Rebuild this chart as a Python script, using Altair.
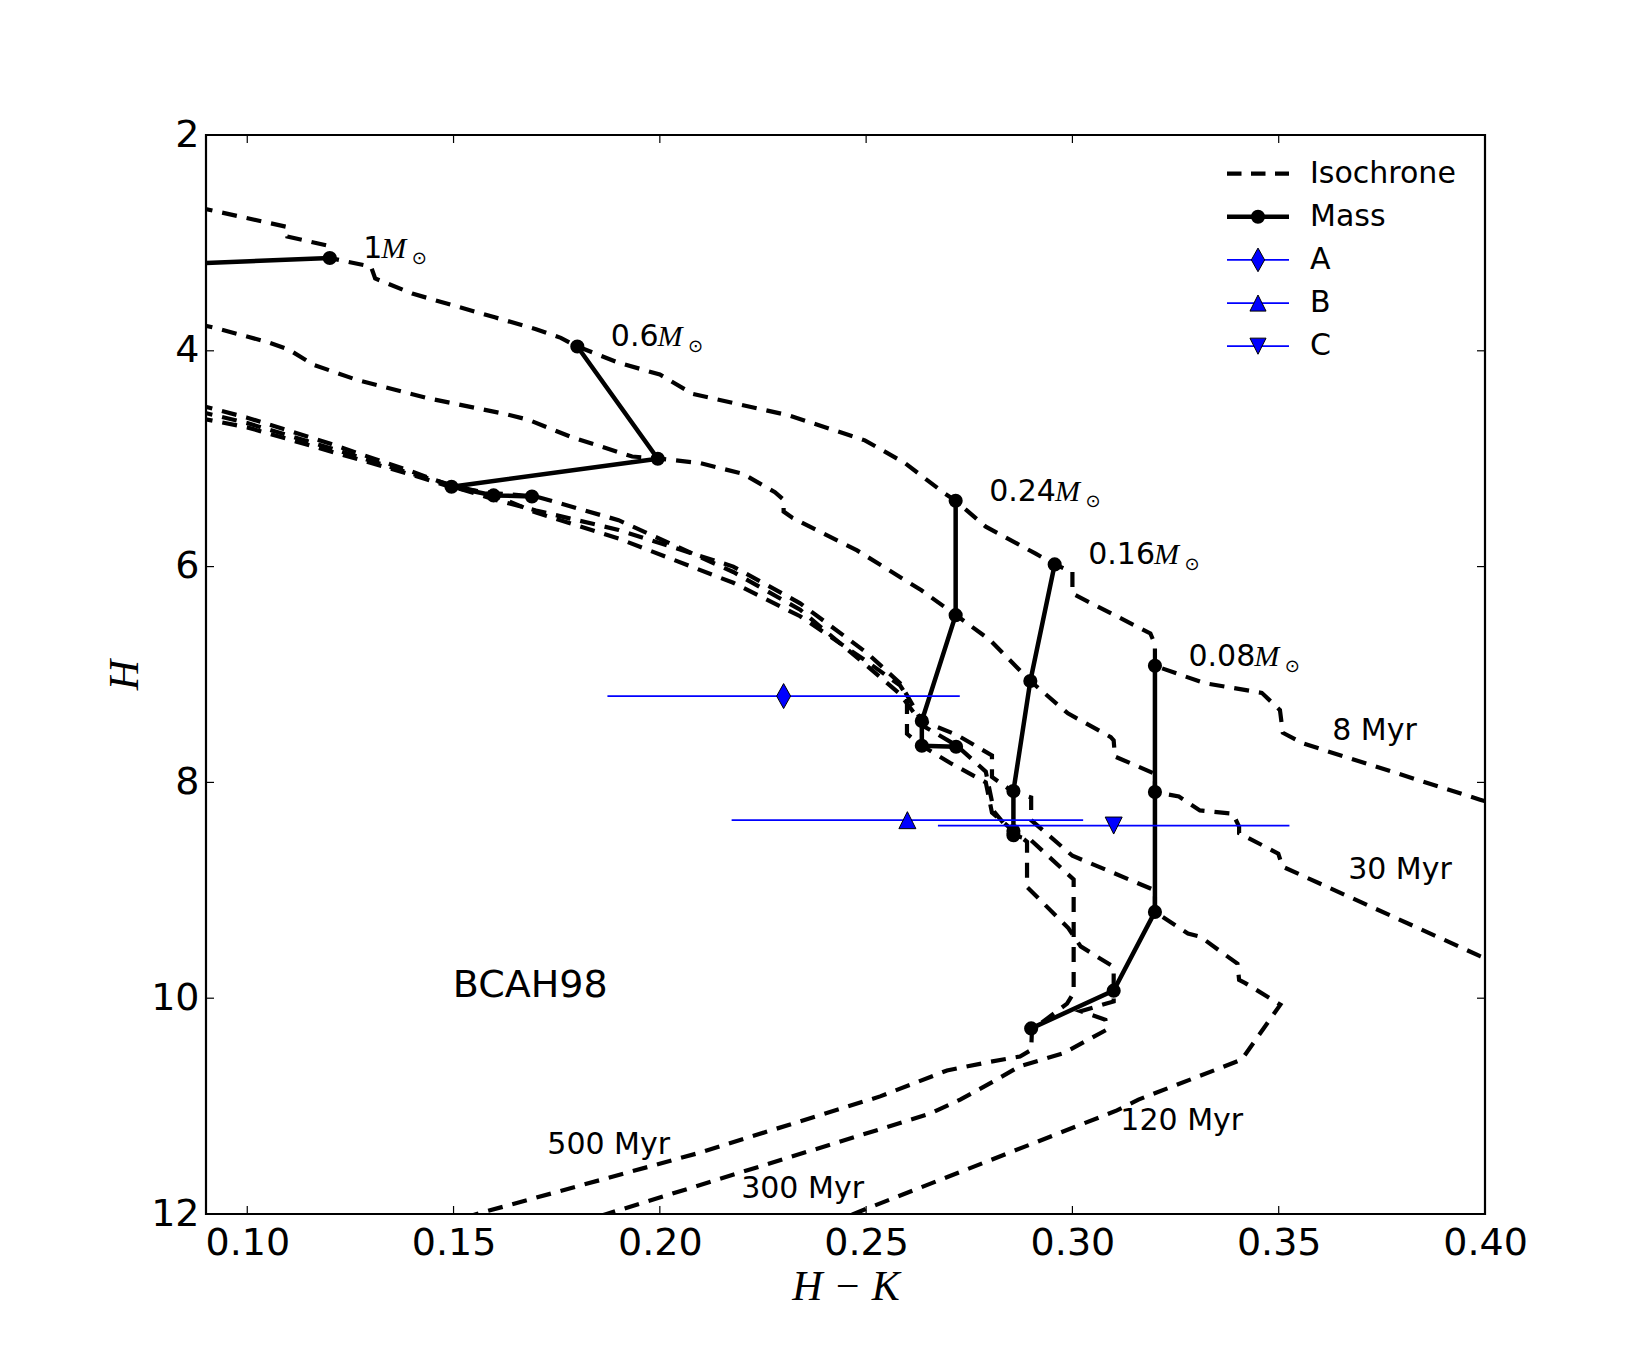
import altair as alt
import pandas as pd

# ------------------------------------------------------------------ data
ISO_NAMES = ["8 Myr", "30 Myr", "120 Myr", "300 Myr", "500 Myr"]

ISO_8_HK = [0.088, 0.1094, 0.1097, 0.120, 0.120, 0.130, 0.131, 0.140, 0.150, 0.160, 0.170, 0.176,
            0.180, 0.190, 0.200, 0.208, 0.2314, 0.2497, 0.2594, 0.2686, 0.2717, 0.279, 0.2911,
            0.2957, 0.300, 0.300, 0.3189, 0.320, 0.320, 0.332, 0.3459, 0.3503, 0.351, 0.356,
            0.3988, 0.405]
ISO_8_H = [2.67, 2.85, 2.94, 3.03, 3.14, 3.22, 3.33, 3.47, 3.58, 3.69, 3.80, 3.88,
           3.96, 4.11, 4.22, 4.40, 4.60, 4.83, 5.04, 5.31, 5.39, 5.63, 5.88,
           5.98, 6.05, 6.25, 6.62, 6.72, 6.92, 7.08, 7.17, 7.33, 7.54, 7.64,
           8.16, 8.23]

ISO_30_HK = [0.088, 0.0924, 0.105, 0.1101, 0.1161, 0.1266, 0.1439, 0.163, 0.1682, 0.1786, 0.1933,
             0.200, 0.2097, 0.2201, 0.2279, 0.230, 0.230, 0.2322, 0.2478, 0.2634, 0.2718, 0.280,
             0.2898, 0.2989, 0.3093, 0.310, 0.3103, 0.320, 0.320, 0.3258, 0.3309, 0.3389, 0.3404,
             0.3404, 0.3499, 0.3509, 0.3988, 0.405]
ISO_30_H = [3.75, 3.79, 3.92, 3.99, 4.13, 4.27, 4.44, 4.59, 4.64, 4.80, 4.98,
            5.00, 5.04, 5.14, 5.31, 5.38, 5.49, 5.55, 5.85, 6.22, 6.45, 6.68,
            7.06, 7.36, 7.58, 7.61, 7.76, 7.92, 8.09, 8.13, 8.26, 8.29, 8.41,
            8.47, 8.66, 8.78, 9.61, 9.71]

ISO_120_HK = [0.088, 0.100, 0.120, 0.140, 0.150, 0.160, 0.170, 0.190, 0.2178, 0.234, 0.2502,
              0.2582, 0.2635, 0.272, 0.2805, 0.2805, 0.2857, 0.290, 0.290, 0.300, 0.320, 0.320,
              0.328, 0.331, 0.340, 0.3404, 0.3419, 0.3504, 0.341, 0.316, 0.3108, 0.2502, 0.245]
ISO_120_H = [4.50, 4.62, 4.86, 5.12, 5.26, 5.38, 5.48, 5.66, 6.00, 6.34, 6.80,
             7.08, 7.43, 7.56, 7.75, 7.95, 8.09, 8.14, 8.35, 8.68, 9.00, 9.20,
             9.40, 9.43, 9.68, 9.83, 9.86, 10.06, 10.57, 10.94, 11.04, 11.95, 12.03]

ISO_300_HK = [0.088, 0.100, 0.120, 0.140, 0.150, 0.160, 0.170, 0.190, 0.2178, 0.234, 0.2502,
              0.2582, 0.2599, 0.2599, 0.2635, 0.2704, 0.279, 0.2805, 0.2857, 0.289, 0.289,
              0.2914, 0.299, 0.302, 0.310, 0.310, 0.310, 0.302, 0.308, 0.3084, 0.2978, 0.2873,
              0.280, 0.2728, 0.2655, 0.1871, 0.180]
ISO_300_H = [4.56, 4.67, 4.90, 5.14, 5.25, 5.34, 5.50, 5.74, 6.15, 6.46, 6.88,
             7.10, 7.20, 7.55, 7.66, 7.82, 8.00, 8.28, 8.45, 8.55, 8.97,
             9.06, 9.35, 9.52, 9.71, 9.93, 10.03, 10.12, 10.20, 10.29, 10.51, 10.63,
             10.79, 10.94, 11.07, 12.00, 12.08]

ISO_500_HK = [0.088, 0.100, 0.120, 0.140, 0.150, 0.160, 0.170, 0.190, 0.2178, 0.234, 0.2502,
              0.2582, 0.264, 0.272, 0.279, 0.281, 0.2857, 0.2898, 0.3003, 0.3003, 0.2987,
              0.2914, 0.2902, 0.290, 0.2873, 0.280, 0.2696, 0.2534, 0.2089, 0.1556, 0.150]
ISO_500_H = [4.62, 4.71, 4.93, 5.15, 5.27, 5.32, 5.35, 5.57, 6.05, 6.40, 6.92,
             7.18, 7.48, 7.66, 7.90, 8.27, 8.49, 8.53, 8.90, 9.95, 10.05,
             10.26, 10.29, 10.48, 10.54, 10.59, 10.67, 10.91, 11.44, 12.00, 12.07]

MASS_NAMES = ["1", "0.6", "0.24", "0.16", "0.08"]
MASS_1_HK = [0.12, 0.05]
MASS_1_H = [3.14, 3.25]
MASS_06_HK = [0.180, 0.1995, 0.1495, 0.1597, 0.169]
MASS_06_H = [3.96, 5.00, 5.26, 5.34, 5.35]
MASS_024_HK = [0.2717, 0.2717, 0.2635, 0.2635, 0.2718]
MASS_024_H = [5.39, 6.45, 7.43, 7.66, 7.67]
MASS_016_HK = [0.2957, 0.2898, 0.2857, 0.2857, 0.2857]
MASS_016_H = [5.98, 7.06, 8.08, 8.45, 8.49]
MASS_008_HK = [0.320, 0.320, 0.320, 0.310, 0.290]
MASS_008_H = [6.92, 8.09, 9.20, 9.93, 10.28]

OBJ_NAMES = ["A", "B", "C"]
OBJ_HK = [0.230, 0.260, 0.310]
OBJ_HK_ERR = [0.0427, 0.0426, 0.0426]
OBJ_H = [7.20, 8.35, 8.40]

ISO_LABEL_HK = [0.3732, 0.3794, 0.3265, 0.2346, 0.1876]
ISO_LABEL_H = [7.52, 8.81, 11.14, 11.77, 11.36]
MODEL_NAME = "BCAH98"
MODEL_HK, MODEL_H = 0.1686, 9.89

X_TICKS = [0.10, 0.15, 0.20, 0.25, 0.30, 0.35, 0.40]
Y_TICKS = [2, 4, 6, 8, 10, 12]
X_DOM = [0.09, 0.40]
Y_DOM = [2, 12]

# ------------------------------------------------------------------ tables
iso_sets = [(ISO_8_HK, ISO_8_H), (ISO_30_HK, ISO_30_H), (ISO_120_HK, ISO_120_H),
            (ISO_300_HK, ISO_300_H), (ISO_500_HK, ISO_500_H)]
rows = []
for name, (hk, h) in zip(ISO_NAMES, iso_sets):
    assert len(hk) == len(h), name
    for i, (a, b) in enumerate(zip(hk, h)):
        rows.append({"iso": name, "idx": i, "hk": a, "h": b})
iso_df = pd.DataFrame(rows)

mass_sets = [(MASS_1_HK, MASS_1_H), (MASS_06_HK, MASS_06_H), (MASS_024_HK, MASS_024_H),
             (MASS_016_HK, MASS_016_H), (MASS_008_HK, MASS_008_H)]
rows = []
for name, (hk, h) in zip(MASS_NAMES, mass_sets):
    for i, (a, b) in enumerate(zip(hk, h)):
        rows.append({"mass": name, "idx": i, "hk": a, "h": b})
mass_df = pd.DataFrame(rows)

obj_df = pd.DataFrame({
    "obj": OBJ_NAMES, "hk": OBJ_HK, "h": OBJ_H,
    "lo": [a - e for a, e in zip(OBJ_HK, OBJ_HK_ERR)],
    "hi": [a + e for a, e in zip(OBJ_HK, OBJ_HK_ERR)],
})
isolab_df = pd.DataFrame({"label": ISO_NAMES, "hk": ISO_LABEL_HK, "h": ISO_LABEL_H})
model_df = pd.DataFrame({"label": [MODEL_NAME], "hk": [MODEL_HK], "h": [MODEL_H]})

# ------------------------------------------------------------------ layout / style
W, H = 1279, 1079
PAD = {"left": 206, "top": 135, "right": 165, "bottom": 136}
FONT = "DejaVu Sans"
SERIF = "Liberation Serif"
TICK_PX = 8
DOT_SIZE = 200
MASS_LW = 4.5
ISO_LW = 4.2
dx_unit = (X_DOM[1] - X_DOM[0]) / W
dy_unit = (Y_DOM[1] - Y_DOM[0]) / H

xs = alt.Scale(domain=X_DOM, nice=False, zero=False)
ys = alt.Scale(domain=Y_DOM, reverse=True, nice=False, zero=False)

x_axis = alt.Axis(values=X_TICKS, format=".2f", ticks=False, domain=False, grid=False,
                  labelFont=FONT, labelFontSize=38, labelColor="black", labelPadding=10,
                  labelFlush=False, labelOverlap=False,
                  title="H − K", titleFont=SERIF, titleFontStyle="italic",
                  titleFontWeight="normal", titleFontSize=42, titleColor="black",
                  titleX=W / 2, titleY=72, titleAlign="center", titleBaseline="middle")
y_axis = alt.Axis(values=Y_TICKS, format="d", ticks=False, domain=False, grid=False,
                  labelFont=FONT, labelFontSize=38, labelColor="black", labelPadding=7,
                  labelFlush=False, labelOverlap=False,
                  title="H", titleFont=SERIF, titleFontStyle="italic",
                  titleFontWeight="normal", titleFontSize=42, titleColor="black",
                  titleAngle=270, titleX=-82, titleY=H / 2, titleAlign="center",
                  titleBaseline="middle")


def X(f):
    return alt.X(f"{f}:Q", scale=xs, axis=x_axis)


def Y(f):
    return alt.Y(f"{f}:Q", scale=ys, axis=y_axis)


layers = []

# isochrones
layers.append(alt.Chart(iso_df).mark_line(color="black", strokeWidth=ISO_LW, strokeDash=[15, 10],
                                          strokeCap="butt", clip=True)
              .encode(x=X("hk"), y=Y("h"), detail="iso:N", order="idx:Q"))
# mass tracks
layers.append(alt.Chart(mass_df).mark_line(color="black", strokeWidth=MASS_LW, clip=True)
              .encode(x=X("hk"), y=Y("h"), detail="mass:N", order="idx:Q"))
layers.append(alt.Chart(mass_df).mark_circle(color="black", size=DOT_SIZE, opacity=1, clip=True)
              .encode(x=X("hk"), y=Y("h")))

# objects with error bars
DIAMOND = "M0,-1L0.56,0L0,1L-0.56,0Z"
TRI_UP = "M0,-0.68L0.68,0.68L-0.68,0.68Z"
TRI_DOWN = "M0,0.68L0.68,-0.68L-0.68,-0.68Z"
layers.append(alt.Chart(obj_df).mark_rule(color="blue", strokeWidth=1.8)
              .encode(x=X("lo"), x2="hi:Q", y=Y("h")))
layers.append(alt.Chart(obj_df).mark_point(filled=True, fill="blue", stroke="black",
                                           strokeWidth=1, opacity=1, size=625)
              .encode(x=X("hk"), y=Y("h"),
                      shape=alt.Shape("obj:N", scale=alt.Scale(domain=OBJ_NAMES,
                                                               range=[DIAMOND, TRI_UP, TRI_DOWN]),
                                      legend=None)))

# isochrone labels and model name
layers.append(alt.Chart(isolab_df).mark_text(font=FONT, fontSize=30, color="black",
                                             align="center", baseline="middle")
              .encode(x=X("hk"), y=Y("h"), text="label:N"))
layers.append(alt.Chart(model_df).mark_text(font=FONT, fontSize=38, color="black",
                                            align="center", baseline="middle")
              .encode(x=X("hk"), y=Y("h"), text="label:N"))

# mass labels: number + italic M + odot subscript
LBL_FS = 30
DIGIT_W = {c: 0.636 for c in "0123456789"}
DIGIT_W["."] = 0.318
LBL_DX = 33.5
for name, (hk, h) in zip(MASS_NAMES, mass_sets):
    d = pd.DataFrame({"hk": [hk[0]], "h": [h[0]], "num": [name]})
    numw = sum(DIGIT_W[c] for c in name) * LBL_FS
    layers.append(alt.Chart(d).mark_text(font=FONT, fontSize=LBL_FS, color="black", align="left",
                                         baseline="alphabetic", dx=LBL_DX)
                  .encode(x=X("hk"), y=Y("h"), text="num:N"))
    layers.append(alt.Chart(d).mark_text(font=SERIF, fontStyle="italic", fontSize=LBL_FS,
                                         color="black", align="left", baseline="alphabetic",
                                         dx=LBL_DX + numw - 1, text="M")
                  .encode(x=X("hk"), y=Y("h")))
    layers.append(alt.Chart(d).mark_text(font=FONT, fontSize=18, color="black", align="center",
                                         baseline="alphabetic", dx=LBL_DX + numw + 37, dy=6,
                                         text="⊙")
                  .encode(x=X("hk"), y=Y("h")))

# inward ticks on all four sides
xt = pd.DataFrame({"t": X_TICKS})
xt_b = xt.assign(a=Y_DOM[1], b=Y_DOM[1] - TICK_PX * dy_unit)
xt_t = xt.assign(a=Y_DOM[0], b=Y_DOM[0] + TICK_PX * dy_unit)
yt = pd.DataFrame({"t": Y_TICKS})
yt_l = yt.assign(a=X_DOM[0], b=X_DOM[0] + TICK_PX * dx_unit)
yt_r = yt.assign(a=X_DOM[1], b=X_DOM[1] - TICK_PX * dx_unit)
for d in (xt_b, xt_t):
    layers.append(alt.Chart(d).mark_rule(color="black", strokeWidth=1.2)
                  .encode(x=X("t"), y=Y("a"), y2="b:Q"))
for d in (yt_l, yt_r):
    layers.append(alt.Chart(d).mark_rule(color="black", strokeWidth=1.2)
                  .encode(y=Y("t"), x=X("a"), x2="b:Q"))

# legend (pixel layout inside the plot area)
one = pd.DataFrame({"k": [0]})
LEG_X0, LEG_X1, LEG_TX = 1021, 1083, 1104
LEG_Y0, LEG_DY = 38.6, 43.15
LEG_ITEMS = ["Isochrone", "Mass"] + OBJ_NAMES
LEG_SHAPES = {"A": DIAMOND, "B": TRI_UP, "C": TRI_DOWN}
for i, lab in enumerate(LEG_ITEMS):
    yy = LEG_Y0 + i * LEG_DY
    xm = (LEG_X0 + LEG_X1) / 2
    if lab == "Isochrone":
        layers.append(alt.Chart(one).mark_rule(color="black", strokeWidth=ISO_LW,
                                               strokeDash=[14.5, 9.5], strokeCap="butt")
                      .encode(x=alt.value(LEG_X0), x2=alt.value(LEG_X1), y=alt.value(yy)))
    elif lab == "Mass":
        layers.append(alt.Chart(one).mark_rule(color="black", strokeWidth=MASS_LW)
                      .encode(x=alt.value(LEG_X0), x2=alt.value(LEG_X1), y=alt.value(yy)))
        layers.append(alt.Chart(one).mark_circle(color="black", size=DOT_SIZE, opacity=1)
                      .encode(x=alt.value(xm), y=alt.value(yy)))
    else:
        layers.append(alt.Chart(one).mark_rule(color="blue", strokeWidth=1.8)
                      .encode(x=alt.value(LEG_X0), x2=alt.value(LEG_X1), y=alt.value(yy)))
        layers.append(alt.Chart(one).mark_point(filled=True, fill="blue", stroke="black",
                                                strokeWidth=1, opacity=1, size=560,
                                                shape=LEG_SHAPES[lab])
                      .encode(x=alt.value(xm), y=alt.value(yy)))
    layers.append(alt.Chart(one).mark_text(font=FONT, fontSize=30, color="black", align="left",
                                           baseline="middle", text=lab)
                  .encode(x=alt.value(LEG_TX), y=alt.value(yy)))

chart = (alt.layer(*layers)
         .properties(width=W, height=H, autosize=alt.AutoSizeParams(type="none"), padding=PAD,
                     background="white")
         .configure_view(stroke="black", strokeWidth=2.2))

chart.save("out.html", embed_options={"renderer": "svg", "actions": False})
